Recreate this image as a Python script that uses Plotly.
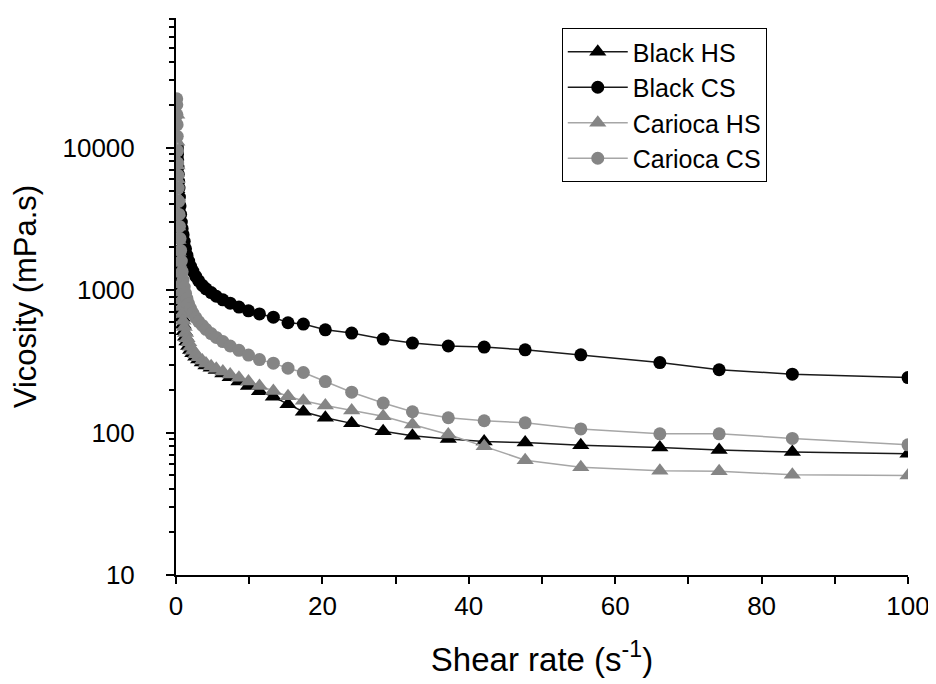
import plotly.graph_objects as go

# shear rate (1/s), shared by all four samples
shear_rate = [0.10, 0.11, 0.13, 0.15, 0.17, 0.20, 0.23, 0.27, 0.31, 0.36,
              0.41, 0.47, 0.55, 0.63, 0.73, 0.84, 0.97, 1.12, 1.30, 1.50,
              1.73, 2.00, 2.30, 2.70, 3.10, 3.60, 4.10, 4.80, 5.50, 6.40,
              7.40, 8.60, 9.90, 11.4, 13.3, 15.3, 17.4, 20.4, 24.0, 28.3,
              32.3, 37.2, 42.1, 47.7, 55.3, 66.1, 74.2, 84.2, 100.0]

# viscosity (mPa.s)
black_hs = [5600, 5100, 4500, 3900, 3300, 2700, 2250, 1900, 1620, 1400,
            1220, 1060, 930, 820, 720, 640, 570, 515, 470, 435,
            405, 380, 360, 340, 325, 310, 295, 285, 275, 260,
            244, 228, 212, 195, 178, 158, 140, 127, 116, 102,
            95, 90, 86.5, 85, 81.5, 78.5, 75.5, 73, 71]
black_cs = [10400, 10300, 10200, 10000, 9600, 9000, 8200, 7300, 6500, 5800,
            5200, 4500, 3900, 3400, 3000, 2700, 2450, 2200, 1950, 1750,
            1600, 1470, 1360, 1250, 1160, 1080, 1020, 960, 905, 855,
            810, 760, 715, 680, 645, 590, 577, 526, 499, 453,
            425, 405, 398, 381, 351, 310, 276, 257, 243]
carioca_hs = [17000, 11000, 7500, 6000, 4500, 3500, 2800, 2250, 1850, 1550,
              1300, 1100, 960, 850, 760, 680, 610, 550, 500, 460,
              430, 400, 375, 355, 338, 320, 305, 292, 280, 268,
              256, 242, 228, 212, 196, 180, 167, 155, 143, 130,
              114, 97, 80, 64, 57, 54, 53.5, 50.5, 50]
carioca_cs = [22000, 20000, 17000, 14500, 12000, 9500, 7800, 6400, 5200, 4200,
              3400, 2800, 2300, 1900, 1600, 1350, 1180, 1050, 950, 870,
              800, 740, 690, 640, 600, 565, 530, 495, 465, 435,
              405, 378, 350, 325, 307, 283, 264, 228, 192, 161,
              140, 127, 121, 117, 106, 98, 98, 91, 82]

y_ticks = [10, 100, 1000, 10000]
y_tick_labels = ["10", "100", "1000", "10000"]

font = "Liberation Sans, Arial, sans-serif"

fig = go.Figure()

fig.add_trace(go.Scatter(x=shear_rate, y=black_hs, mode="lines+markers", name="Black HS",
                         line=dict(color="#1a1a1a", width=1.5),
                         marker=dict(symbol="triangle-up", size=15, color="black")))
fig.add_trace(go.Scatter(x=shear_rate, y=black_cs, mode="lines+markers", name="Black CS",
                         line=dict(color="#1a1a1a", width=1.5),
                         marker=dict(symbol="circle", size=13, color="black")))
fig.add_trace(go.Scatter(x=shear_rate, y=carioca_hs, mode="lines+markers", name="Carioca HS",
                         line=dict(color="#a6a6a6", width=1.5),
                         marker=dict(symbol="triangle-up", size=15, color="#858585")))
fig.add_trace(go.Scatter(x=shear_rate, y=carioca_cs, mode="lines+markers", name="Carioca CS",
                         line=dict(color="#a6a6a6", width=1.5),
                         marker=dict(symbol="circle", size=13, color="#858585")))

# page body has an 8px margin, so the plot is shifted up/left by that much
fig.update_layout(
    width=936, height=684,
    margin=dict(l=168, r=36, t=10, b=117),
    paper_bgcolor="white", plot_bgcolor="white",
    font=dict(family=font, size=26, color="black"),
    legend=dict(x=0.527, y=0.982, xanchor="left", yanchor="top",
                bgcolor="white", bordercolor="black", borderwidth=1,
                font=dict(size=25), itemwidth=60, tracegroupgap=0),
)

fig.update_xaxes(
    range=[0, 100], dtick=20, showgrid=False, zeroline=False,
    showline=True, linecolor="black", linewidth=2,
    ticks="outside", ticklen=7, tickwidth=2, tickcolor="black",
    minor=dict(dtick=10, ticks="outside", ticklen=7, tickwidth=2, tickcolor="black", showgrid=False),
    tickfont=dict(size=26), automargin=False,
    title=dict(text="Shear rate (s<sup>-1</sup>)", font=dict(size=33), standoff=28),
)

fig.update_yaxes(
    type="log", range=[1, 4.91], tickvals=y_ticks, ticktext=y_tick_labels,
    showgrid=False, zeroline=False,
    showline=True, linecolor="black", linewidth=2,
    ticks="outside", ticklen=8, tickwidth=2, tickcolor="black",
    minor=dict(dtick="D1", ticks="outside", ticklen=5, tickwidth=1.5, tickcolor="black", showgrid=False),
    tickfont=dict(size=26), ticklabelstandoff=26, automargin=False,
    title=dict(text="Vicosity (mPa.s)", font=dict(size=31), standoff=20),
)

fig.write_html("out.html")
